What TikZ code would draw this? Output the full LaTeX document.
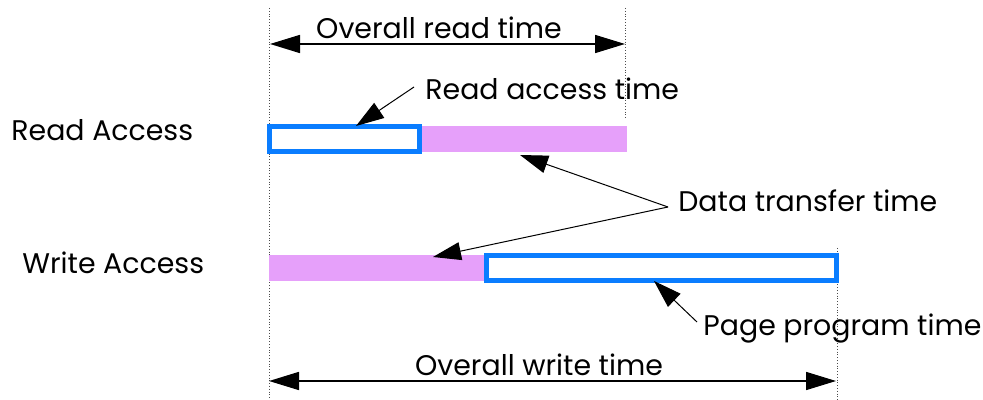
\documentclass[tikz,border=0pt]{standalone}
\usepackage{fontspec}
\setmainfont{Poppins}
\usetikzlibrary{arrows,arrows.meta,positioning}
\definecolor{accblue}{RGB}{10,125,255}
\definecolor{xferpink}{RGB}{230,160,250}

\begin{document}
\begin{tikzpicture}[x=0.5pt, y=-0.5pt,
  txt/.style={anchor=base west, inner sep=0pt, font=\fontsize{14.2}{17}\selectfont},
  guide/.style={densely dotted, black!70, line width=0.4pt},
  span/.style={{Triangle[length=15pt,width=9pt]}-{Triangle[length=15pt,width=9pt]}, line width=0.8pt},
  lead/.style={-{Triangle[length=14pt,width=9pt]}, line width=0.5pt},
  accbox/.style={draw=accblue, line width=2.5pt},
  xferbar/.style={fill=xferpink}]

  \useasboundingbox (0,0) rectangle (983,400);

  % Guide lines
  \coordinate (g0top) at (269,8);   \coordinate (g0bot) at (269,400);
  \coordinate (g1top) at (625,8);   \coordinate (g1bot) at (625,118);
  \coordinate (g2top) at (837,248); \coordinate (g2bot) at (837,400);
  \draw[guide] (g0top) -- (g0bot);
  \draw[guide] (g1top) -- (g1bot);
  \draw[guide] (g2top) -- (g2bot);

  % Read access bars
  \fill[xferbar] (420,126) rectangle (627,152);
  \draw[accbox] (269.5,126.5) rectangle (419.5,151.5);

  % Write access bars
  \fill[xferbar] (269,255) rectangle (486,281);
  \draw[accbox] (486.5,255.5) rectangle (836.5,280.5);

  % Labels
  \node[txt, anchor=base] (rdall) at (439,39) {Overall read time};
  \node[txt] (rdacc) at (425,100) {Read access time};
  \node[txt] (rdrow) at (11,141) {Read Access};
  \node[txt] (xfer) at (678,212) {Data transfer time};
  \node[txt] (wrrow) at (22,274) {Write Access};
  \node[txt] (pgm) at (703,335) {Page program time};
  \node[txt, anchor=base] (wrall) at (539,375) {Overall write time};

  % Arrow ends
  \coordinate (rdL) at (270,44);  \coordinate (rdR) at (625,44);
  \coordinate (wrL) at (269,381); \coordinate (wrR) at (836,381);
  \coordinate (rdaccfoot) at (414,87);  \coordinate (rdacctip) at (356,126);
  \coordinate (xferfoot) at (668,207);
  \coordinate (xfertipA) at (520,155); \coordinate (xfertipB) at (433,257);
  \coordinate (pgmfoot) at (697,322);  \coordinate (pgmtip) at (654,281);

  % Arrows
  \draw[span] (rdL) -- (rdR);
  \draw[span] (wrL) -- (wrR);
  \draw[lead] (rdaccfoot) -- (rdacctip);
  \draw[lead] (xferfoot) -- (xfertipA);
  \draw[lead] (xferfoot) -- (xfertipB);
  \draw[lead] (pgmfoot) -- (pgmtip);

\end{tikzpicture}
\end{document}
